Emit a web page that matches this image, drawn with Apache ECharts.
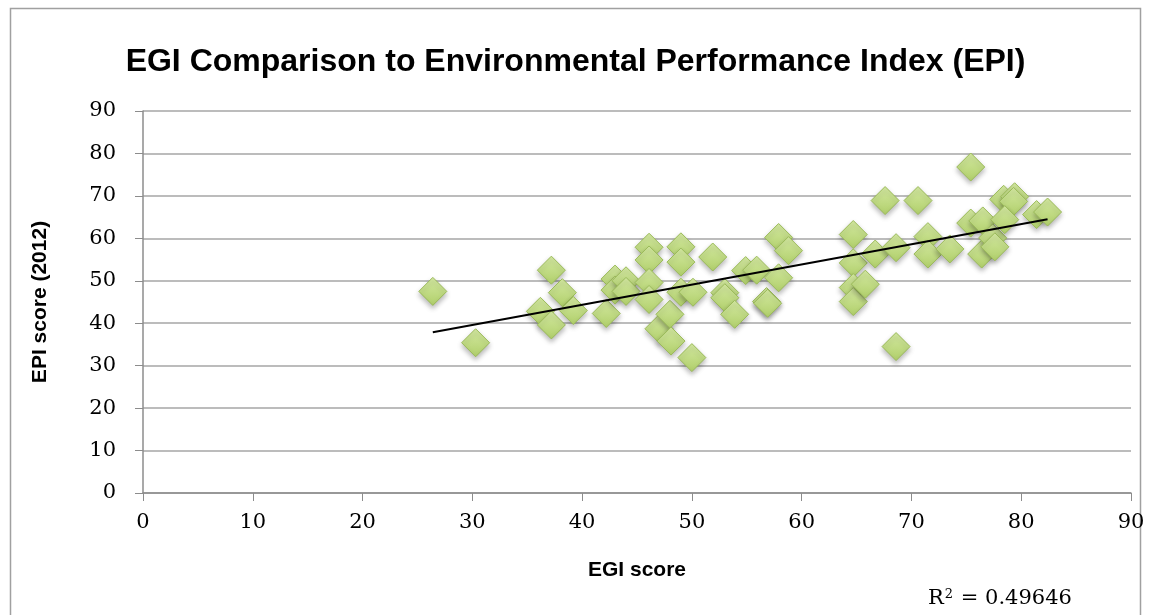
<!DOCTYPE html>
<html>
<head>
<meta charset="utf-8">
<script src="https://cdn.jsdelivr.net/npm/echarts@6/dist/echarts.min.js"></script>
<style>html,body{margin:0;padding:0;background:#fff}#c{width:1151px;height:615px}</style>
</head>
<body>
<div id="c"></div>
<script>
const egiScores = [26.4,30.3,36.2,37.2,37.2,38.2,39.2,42.2,43.0,43.0,44.0,44.0,46.1,46.1,46.1,46.1,47.0,48.0,48.1,49.0,49.0,49.0,50.1,50.0,51.9,53.0,53.0,53.9,54.9,55.9,56.8,56.9,57.9,58.8,57.9,64.7,64.7,64.7,64.7,65.8,66.7,67.6,68.6,68.6,70.6,71.5,71.5,73.5,75.4,75.4,76.5,76.4,77.4,77.6,78.4,79.4,79.3,78.5,81.4,82.4];
const epiScores = [47.5,35.4,42.8,52.5,39.6,47.2,43.0,42.3,50.4,47.8,50.0,47.5,57.9,54.9,49.6,45.6,38.7,42.1,35.8,58.0,54.4,47.3,47.3,31.9,55.6,47.2,46.0,42.1,52.4,52.5,45.1,44.7,60.2,57.1,50.7,60.9,54.2,48.4,45.1,49.2,56.3,68.9,57.8,34.5,68.9,60.4,56.3,57.5,76.8,63.6,64.1,56.3,60.1,58.0,69.2,69.8,68.7,64.4,65.6,66.2];
const trendStart = [26.4, 37.85];
const trendEnd = [82.4, 64.5];
const xTicks = [0,10,20,30,40,50,60,70,80,90];
const titleText = 'EGI Comparison to Environmental Performance Index (EPI)';
const xName = 'EGI score';
const yName = 'EPI score (2012)';

const points = egiScores.map((x, i) => [x, epiScores[i]]);
const chart = echarts.init(document.getElementById('c'), null, {renderer: 'canvas'});
const serif = '"DejaVu Serif", "Liberation Serif", serif';
const sans = '"Liberation Sans", Arial, sans-serif';
chart.setOption({
  animation: false,
  backgroundColor: '#ffffff',
  title: {
    text: titleText, left: 'center', top: 41,
    textStyle: {fontFamily: sans, fontWeight: 'bold', fontSize: 32, color: '#000'}
  },
  grid: {left: 143, right: 20, top: 111, bottom: 122},
  xAxis: {
    type: 'value', min: 0, max: 90, interval: 10,
    name: xName, nameLocation: 'middle', nameGap: 67,
    nameTextStyle: {fontFamily: sans, fontWeight: 'bold', fontSize: 21, color: '#000'},
    axisLine: {show: true, onZero: false, lineStyle: {color: '#8c8c8c', width: 1.5}},
    axisTick: {show: true, length: 8, inside: false, lineStyle: {color: '#8c8c8c', width: 1}},
    axisLabel: {fontFamily: serif, fontSize: 21, color: '#000', margin: 19},
    splitLine: {show: false}
  },
  yAxis: {
    type: 'value', min: 0, max: 90, interval: 10,
    name: yName, nameLocation: 'middle', nameGap: 92, nameRotate: 90,
    nameTextStyle: {fontFamily: sans, fontWeight: 'bold', fontSize: 21, color: '#000'},
    axisLine: {show: true, onZero: false, lineStyle: {color: '#8c8c8c', width: 1.5}},
    axisTick: {show: true, length: 8, inside: false, lineStyle: {color: '#8c8c8c', width: 1}},
    axisLabel: {fontFamily: serif, fontSize: 21, color: '#000', margin: 27},
    splitLine: {show: true, lineStyle: {color: '#a6a6a6', width: 1.5}}
  },
  graphic: [
    {type: 'rect', shape: {x: 10.5, y: 8.5, width: 1130, height: 620}, style: {fill: 'none', stroke: '#a0a0a0', lineWidth: 1.5}, silent: true, z: -1},
    {type: 'text', left: 928, top: 588, style: {
      text: '{r|R}{s|2}{r| = 0.49646}',
      rich: {r: {fontFamily: serif, fontSize: 21, fill: '#000'}, s: {fontFamily: serif, fontSize: 13, fill: '#000', verticalAlign: 'top', padding: [0,1,9,1]}}
    }}
  ],
  series: [
    {
      type: 'scatter', data: points, symbol: 'diamond', symbolSize: 28, z: 3,
      itemStyle: {
        opacity: 1,
        color: new echarts.graphic.LinearGradient(0, 0, 0, 1, [
          {offset: 0, color: '#d4e9a2'}, {offset: 1, color: '#b0cf6a'}
        ]),
        borderColor: '#9bbb59', borderWidth: 1,
        shadowColor: 'rgba(0,0,0,0.28)', shadowBlur: 5, shadowOffsetX: 0, shadowOffsetY: 3
      }
    },
    {
      type: 'line', data: [trendStart, trendEnd], symbol: 'none', z: 4,
      lineStyle: {color: '#000', width: 2}
    }
  ]
});
</script>
</body>
</html>
